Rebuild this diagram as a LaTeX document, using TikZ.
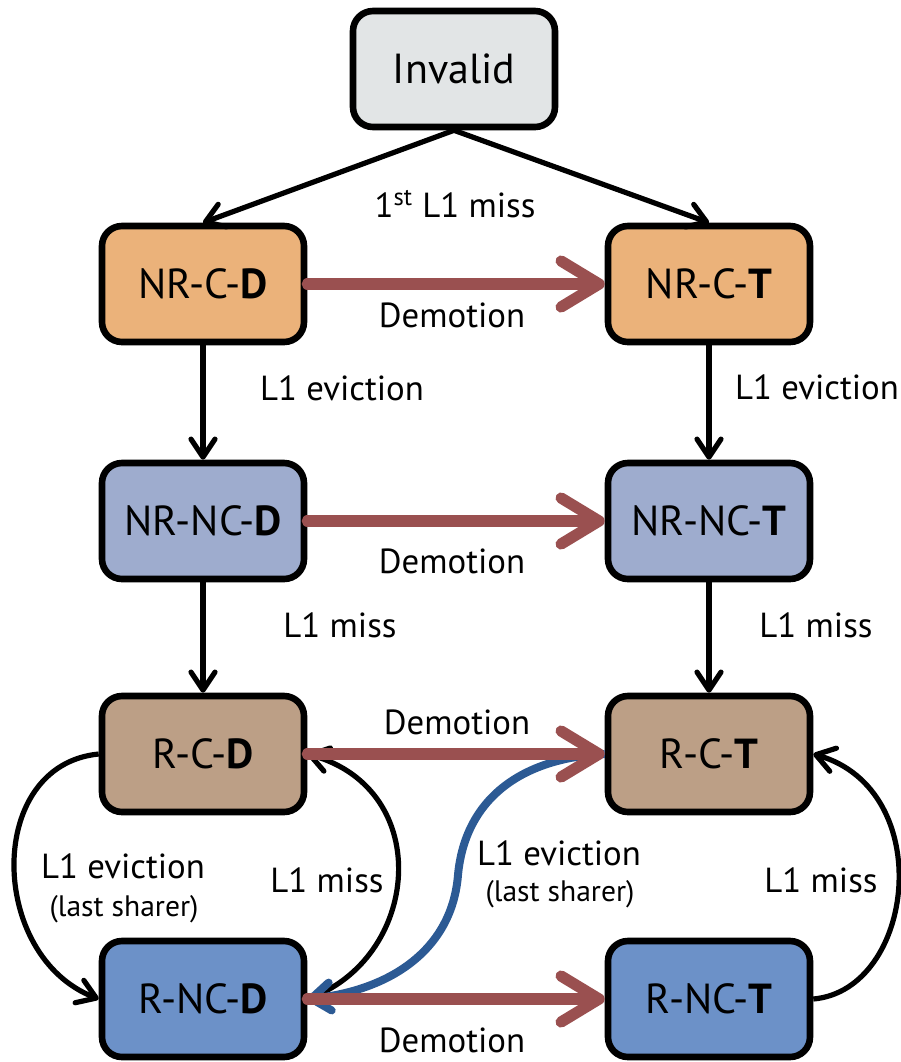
\documentclass[tikz,border=0pt]{standalone}
\usepackage{fontspec}
\setmainfont{PT Sans}
\usetikzlibrary{arrows.meta}

\definecolor{invfill}{HTML}{E2E5E6}
\definecolor{nrcfill}{HTML}{EBB27A}
\definecolor{nrncfill}{HTML}{9EACCE}
\definecolor{rcfill}{HTML}{BC9F86}
\definecolor{rncfill}{HTML}{6C91C8}
\definecolor{demred}{HTML}{9A5050}
\definecolor{evblue}{HTML}{2C5A94}

\tikzset{
  statebox/.style={draw=black, line width=3.3pt, rounded corners=10pt,
    minimum width=101pt, minimum height=58pt, inner sep=0pt,
    font=\fontsize{21}{24}\selectfont},
  lbl/.style={inner sep=0pt, font=\fontsize{17.4}{20}\selectfont},
  sublbl/.style={inner sep=0pt, font=\fontsize{14.8}{17}\selectfont},
  blk/.style={draw=black, line width=2.6pt,
    -{Straight Barb[length=9pt, width=12pt, round]}},
  demote/.style={draw=demred, line width=5.6pt, line cap=round,
    -{Straight Barb[length=19pt, width=23pt, round]}},
  evict/.style={draw=evblue, line width=4pt,
    -{Straight Barb[length=9.5pt, width=14pt, round]}},
}

\begin{document}
\begin{tikzpicture}[x=0.5pt, y=-0.5pt]
\useasboundingbox (0,0) rectangle (901,1062);

% states
\node[statebox, fill=invfill] (INV) at (454,69) {Invalid};
\node[statebox, fill=nrcfill] (NRCD) at (203,284) {NR-C-\textbf{D}};
\node[statebox, fill=nrcfill] (NRCT) at (709,284) {NR-C-\textbf{T}};
\node[statebox, fill=nrncfill] (NRNCD) at (203,521) {NR-NC-\textbf{D}};
\node[statebox, fill=nrncfill] (NRNCT) at (709,521) {NR-NC-\textbf{T}};
\node[statebox, fill=rcfill] (RCD) at (203,754) {R-C-\textbf{D}};
\node[statebox, fill=rcfill] (RCT) at (709,754) {R-C-\textbf{T}};
\node[statebox, fill=rncfill] (RNCD) at (203,999) {R-NC-\textbf{D}};
\node[statebox, fill=rncfill] (RNCT) at (709,999) {R-NC-\textbf{T}};

% first miss from Invalid
\draw[blk] (INV.south) -- (NRCD.north);
\draw[blk] (INV.south) -- (NRCT.north);

% vertical transitions
\draw[blk] (NRCD.south) -- (NRNCD.north);
\draw[blk] (NRCT.south) -- (NRNCT.north);
\draw[blk] (NRNCD.south) -- (RCD.north);
\draw[blk] (NRNCT.south) -- (RCT.north);

% loops between the replicated states
\draw[blk] (RCD.west) .. controls (-15,765) and (-12,956) .. (RNCD.west);
\draw[blk] (RNCD.east) .. controls (420,960) and (436,790) .. (RCD.east);
\draw[blk] (RNCT.east) .. controls (915,990) and (938,790) .. (RCT.east);

% last-sharer eviction across
\draw[evict] (RCT.west) .. controls (520,758) and (465,800) .. (458,875)
  .. controls (452,950) and (390,990) .. (RNCD.east);

% demotions
\draw[demote] (NRCD.east) -- (NRCT.west);
\draw[demote] (NRNCD.east) -- (NRNCT.west);
\draw[demote] (RCD.east) -- (RCT.west);
\draw[demote] (RNCD.east) -- (RNCT.west);

% labels
\node[lbl] (l1st) at (455,204) {1\textsuperscript{st} L1 miss};
\node[lbl] (ldem1) at (452,315) {Demotion};
\node[lbl] (lev1) at (342,388) {L1 eviction};
\node[lbl] (lev2) at (817,387) {L1 eviction};
\node[lbl] (ldem2) at (452,561) {Demotion};
\node[lbl] (lmiss1) at (340,625) {L1 miss};
\node[lbl] (lmiss2) at (816,625) {L1 miss};
\node[lbl] (ldem3) at (457,722) {Demotion};
\node[lbl] (lev3) at (123,866) {L1 eviction};
\node[sublbl] (lsh3) at (124,909) {(last sharer)};
\node[lbl] (lmiss3) at (327,880) {L1 miss};
\node[lbl] (lev4) at (559,853) {L1 eviction};
\node[sublbl] (lsh4) at (560,894) {(last sharer)};
\node[lbl] (lmiss4) at (821,880) {L1 miss};
\node[lbl] (ldem4) at (452,1040) {Demotion};
\end{tikzpicture}
\end{document}
